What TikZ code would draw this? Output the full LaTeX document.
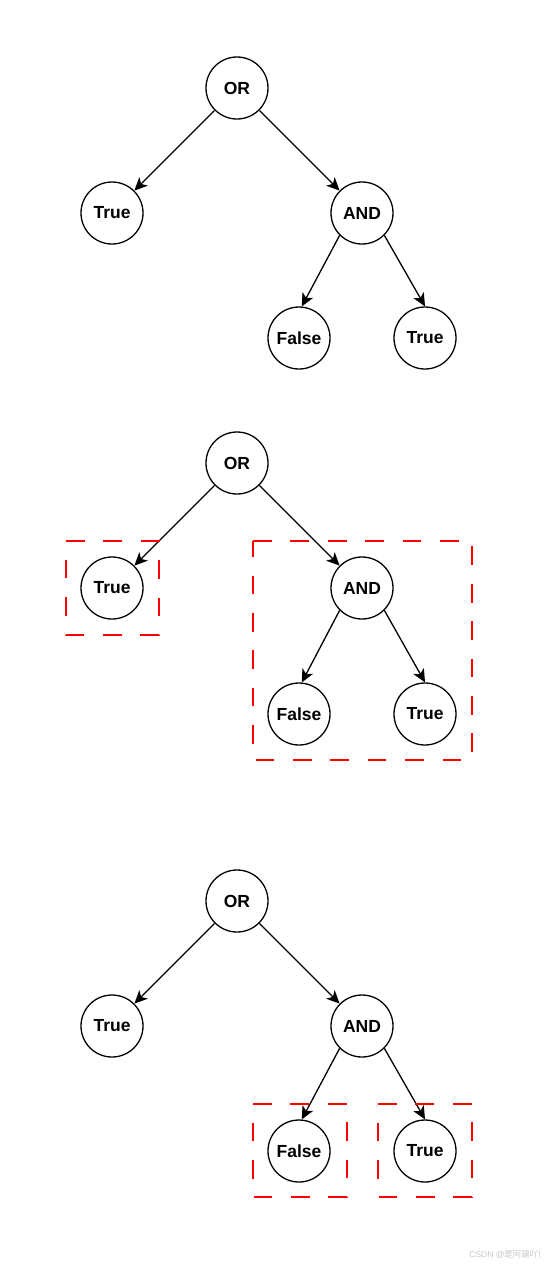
\documentclass[tikz,border=0pt]{standalone}
\usepackage{fontspec}
\setmainfont{Liberation Sans}
\newfontfamily\cjkfont{Noto Sans CJK SC}
\usetikzlibrary{arrows.meta}
\tikzset{
  tn/.style={circle,draw=black,line width=1.3pt,minimum size=62pt,inner sep=0pt,font=\fontsize{17.5}{20}\selectfont\bfseries},
  edge/.style={line width=1.3pt,-{Stealth[length=13pt,width=12pt,inset=3.5pt]}},
  dbox/.style={draw={rgb,255:red,255;green,0;blue,0},line width=1.3pt,dash pattern=on 18.7pt off 18.7pt}
}
\begin{document}
\begin{tikzpicture}[x=1pt,y=-1pt]
\useasboundingbox (0,0) rectangle (544,1267);
% Tree 1
\node[tn] (or1) at (237,88) {OR};
\node[tn] (t1) at (112,213) {True};
\node[tn] (and1) at (362,213) {AND};
\node[tn] (f1) at (299,338) {False};
\node[tn] (tt1) at (425,338) {True};
\draw[edge] (or1.225) -- (t1.45);
\draw[edge] (or1.315) -- (and1.135);
\draw[edge] (and1.225) -- (f1.85);
\draw[edge] (and1.315) -- (tt1.north);
% Tree 2
\node[tn] (or2) at (237,463) {OR};
\node[tn] (t2) at (112,588) {True};
\node[tn] (and2) at (362,588) {AND};
\node[tn] (f2) at (299,714) {False};
\node[tn] (tt2) at (425,714) {True};
\draw[edge] (or2.225) -- (t2.45);
\draw[edge] (or2.315) -- (and2.135);
\draw[edge] (and2.225) -- (f2.85);
\draw[edge] (and2.315) -- (tt2.north);
\draw[dbox] (66,541) -- (159,541) -- (159,635) -- (66,635) -- cycle;
\draw[dbox] (253,541) -- (472,541) -- (472,760) -- (253,760) -- cycle;
% Tree 3
\node[tn] (or3) at (237,901) {OR};
\node[tn] (t3) at (112,1026) {True};
\node[tn] (and3) at (362,1026) {AND};
\node[tn] (f3) at (299,1151) {False};
\node[tn] (tt3) at (425,1151) {True};
\draw[edge] (or3.225) -- (t3.45);
\draw[edge] (or3.315) -- (and3.135);
\draw[edge] (and3.225) -- (f3.85);
\draw[edge] (and3.315) -- (tt3.north);
\draw[dbox] (253,1104) -- (347,1104) -- (347,1197) -- (253,1197) -- cycle;
\draw[dbox] (378,1104) -- (472,1104) -- (472,1197) -- (378,1197) -- cycle;
% watermark
\node[anchor=east,text=black!22,font=\fontsize{8.5}{10}\selectfont,inner sep=0pt] (wm) at (541,1255) {CSDN @{\cjkfont 是阿建吖}!};
\end{tikzpicture}
\end{document}
